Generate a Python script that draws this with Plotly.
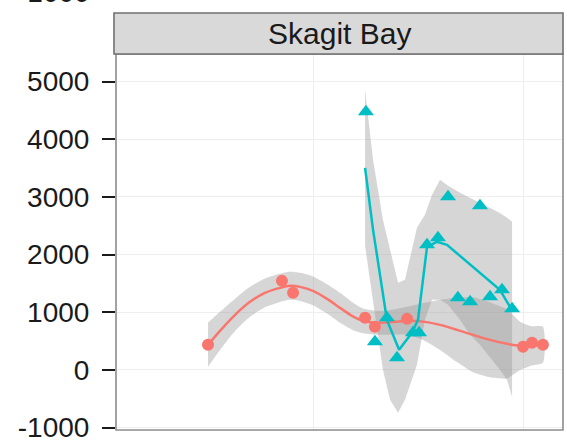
import numpy as np
import plotly.graph_objects as go

# ---- data ----
red_x = [50, 85.2, 90.5, 124.8, 129.5, 144.8, 200, 204.3, 209.5]
red_y = [434, 1543, 1335, 902, 746, 884, 399, 468, 434]

teal_x = [125.2, 129.5, 135.2, 140, 147.6, 150.5, 154.3, 159.5, 164.3, 169, 174.8, 179.5, 184.3, 190, 194.8]
teal_y = [4474, 486, 902, 208, 642, 642, 2168, 2289, 3000, 1249, 1179, 2844, 1266, 1387, 1058]

# smooth fit (red) and half-width of its confidence band
red_fit_x = [50.0, 55.7, 62.9, 70.0, 77.1, 84.3, 89.0, 93.8, 100.0, 106.7, 112.9, 118.6, 123.8,
             131.9, 139.0, 144.8, 153.3, 160.5, 168.6, 176.2, 184.3, 192.4, 198.6, 204.3, 209.5]
red_fit_y = [434, 676, 954, 1179, 1335, 1422, 1457, 1439, 1370, 1231, 1075, 936, 850,
             815, 832, 850, 832, 780, 694, 607, 520, 451, 416, 416, 434]
red_fit_se = [381, 330, 280, 260, 250, 245, 243, 243, 250, 255, 260, 240, 215,
              208, 220, 243, 330, 434, 560, 650, 650, 600, 420, 340, 312]

# smooth fit (teal)
teal_fit_x = [124.8, 128.6, 135.2, 141, 147.1, 150, 154.3, 159, 163.8, 174.8, 189, 195.2]
teal_fit_y = [3503, 2428, 867, 347, 642, 867, 2133, 2220, 2168, 1821, 1387, 1006]

# teal confidence band
teal_band_x = [124.8, 128.6, 133.3, 136.7, 140.5, 143.8, 147.1, 149.5, 153.3, 156.7, 160.5,
               164.3, 170, 174.8, 179.5, 184.3, 189, 192.4, 194.8]
teal_band_hi = [4855, 3641, 2601, 2081, 1509, 1561, 2081, 2462, 2688, 3035, 3295,
                3191, 3069, 2983, 2896, 2809, 2722, 2636, 2566]
teal_band_lo = [2150, 1214, 0, -520, -746, -520, -173, 87, 867, 1214, 1214,
                1127, 867, 607, 434, 208, 0, -173, -468]

y_ticks = [-1000, 0, 1000, 2000, 3000, 4000, 5000]
x_grid = [100, 200]
panel_title = "Skagit Bay"
cut_label = "-1000"

RED = "#F8766D"
TEAL = "#00BFC4"
BAND = "rgba(153,153,153,0.4)"

fig = go.Figure()

# red band
rx = np.array(red_fit_x, dtype=float)
ry = np.array(red_fit_y, dtype=float)
rs = np.array(red_fit_se, dtype=float)
fig.add_trace(go.Scatter(
    x=np.concatenate([rx, rx[::-1]]),
    y=np.concatenate([ry + rs, (ry - rs)[::-1]]),
    fill="toself", fillcolor=BAND, line=dict(width=0, shape="spline", smoothing=0.6),
    mode="lines", hoverinfo="skip", showlegend=False))

# teal band
tx = np.array(teal_band_x, dtype=float)
fig.add_trace(go.Scatter(
    x=np.concatenate([tx, tx[::-1]]),
    y=np.concatenate([np.array(teal_band_hi), np.array(teal_band_lo)[::-1]]),
    fill="toself", fillcolor=BAND, line=dict(width=0), mode="lines",
    hoverinfo="skip", showlegend=False))

# fit lines
fig.add_trace(go.Scatter(x=red_fit_x, y=red_fit_y, mode="lines",
                         line=dict(color=RED, width=2.5, shape="spline", smoothing=0.6),
                         showlegend=False))
fig.add_trace(go.Scatter(x=teal_fit_x, y=teal_fit_y, mode="lines",
                         line=dict(color=TEAL, width=2.5),
                         showlegend=False))

# points
fig.add_trace(go.Scatter(x=red_x, y=red_y, mode="markers",
                         marker=dict(color=RED, size=12, symbol="circle"),
                         showlegend=False))
fig.add_trace(go.Scatter(x=teal_x, y=teal_y, mode="markers",
                         marker=dict(color=TEAL, size=14, symbol="triangle-up"),
                         showlegend=False))

W, H = 567, 448
L, R, T, B = 116, 4, 54, 18
ph = H - T - B

fig.update_layout(
    width=W, height=H,
    margin=dict(l=L, r=R, t=T, b=B),
    paper_bgcolor="white", plot_bgcolor="white",
    font=dict(family="Liberation Sans, Arial, sans-serif", color="#1a1a1a"),
    xaxis=dict(range=[6.19, 219.05], showticklabels=False, ticks="",
               tickvals=x_grid, showgrid=True, gridcolor="#eeeeee", gridwidth=1.2,
               zeroline=False, showline=False),
    yaxis=dict(range=[-1043, 5477], tickvals=y_ticks, ticktext=[str(v) for v in y_ticks],
               ticks="outside", ticklen=13, tickwidth=2.2, tickcolor="#1a1a1a",
               ticklabelstandoff=7,
               tickfont=dict(size=28, color="#1a1a1a"),
               showgrid=True, gridcolor="#eeeeee", gridwidth=1.2,
               zeroline=False, showline=False),
    shapes=[
        dict(type="rect", xref="paper", yref="paper", x0=0, x1=1, y0=0, y1=1,
             line=dict(color="#8c8c8c", width=1.6), fillcolor="rgba(0,0,0,0)", layer="above"),
        dict(type="rect", xref="paper", yref="paper", x0=-2 / 447, x1=1,
             y0=1, y1=1 + 41 / ph,
             line=dict(color="#707070", width=1.6), fillcolor="#d9d9d9", layer="above"),
    ],
    annotations=[
        dict(text=panel_title, xref="paper", yref="paper", x=0.5, y=1 + 20.5 / ph,
             xanchor="center", yanchor="middle", showarrow=False,
             font=dict(size=30, color="#1a1a1a")),
        dict(text=cut_label, xref="paper", yref="paper", x=-24 / 447, y=1 + 62 / ph,
             xanchor="right", yanchor="middle", showarrow=False,
             font=dict(size=28, color="#1a1a1a")),
    ],
)

fig.write_html("out.html")
